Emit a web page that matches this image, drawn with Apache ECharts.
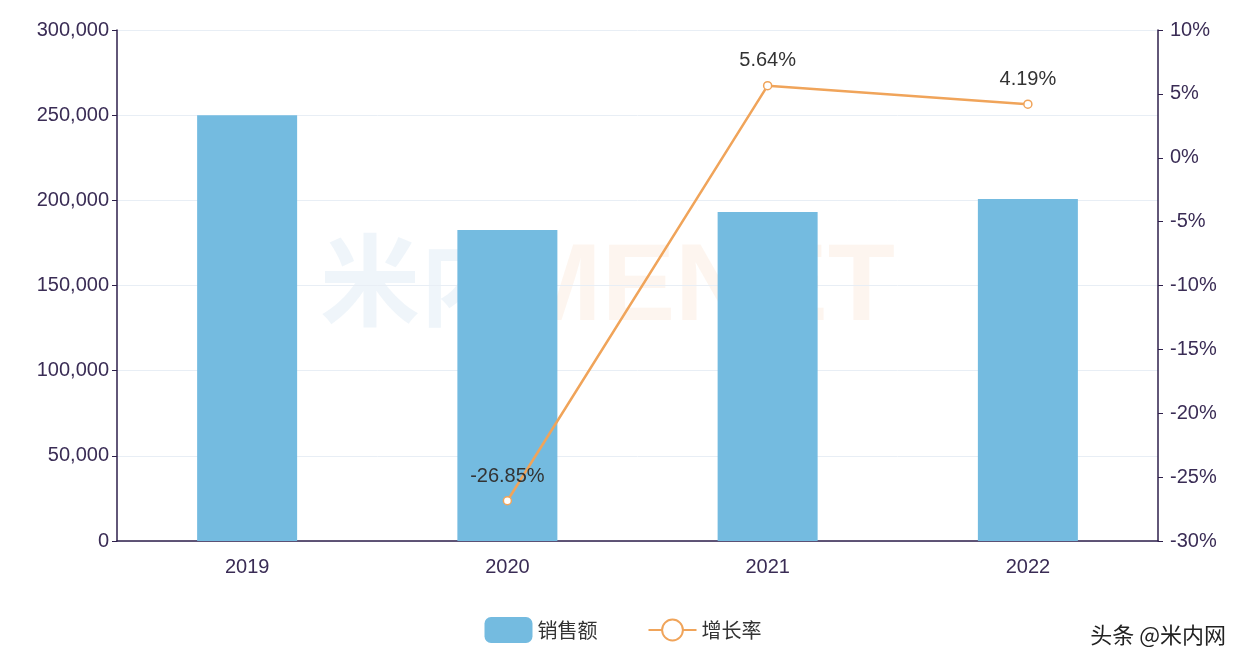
<!DOCTYPE html>
<html><head><meta charset="utf-8">
<script src="https://cdn.jsdelivr.net/npm/echarts@6/dist/echarts.min.js"></script>
<style>html,body{margin:0;padding:0;background:#fff}#c{width:1246px;height:660px}</style>
</head><body><div id="c"></div>
<script>
var categories = ['2019','2020','2021','2022'];
var sales = [250000, 182600, 193200, 200800];
var growth = [null, -26.85, 5.64, 4.19];
var chart = echarts.init(document.getElementById('c'));
var axisText = {color:'#3a2c55', fontSize:20, fontFamily:'Liberation Sans'};
chart.setOption({
  animation:false,
  grid:{left:117, right:88, top:30, bottom:119},
  legend:{bottom:12, left:'center', itemWidth:48, itemHeight:26, itemGap:50,
    textStyle:{fontSize:20, color:'#333', fontFamily:'Noto Sans CJK SC'},
    data:[{name:'销售额', icon:'roundRect'},{name:'增长率'}]},
  graphic:[
    {type:'text', left:320, top:230, style:{text:'米内', fontSize:100, fontWeight:'bold', fill:'rgba(120,170,210,0.12)', fontFamily:'Noto Sans CJK SC'}},
    {type:'text', left:510, top:235, style:{text:'MENET', fontSize:110, fontWeight:'bold', fill:'rgba(240,160,100,0.10)', fontFamily:'Liberation Sans'}},
    {type:'text', right:20, bottom:14, style:{text:'头条 @米内网', fontSize:22, fill:'#222', fontFamily:'Noto Sans CJK SC'}}
  ],
  xAxis:{type:'category', data:categories,
    axisLine:{lineStyle:{color:'#2e1f4b', width:1.5}}, axisTick:{lineStyle:{color:'#2e1f4b'}, length:6},
    axisLabel:Object.assign({margin:16}, axisText)},
  yAxis:[
    {type:'value', min:0, max:300000, interval:50000,
     axisLine:{show:true, lineStyle:{color:'#2e1f4b', width:1.5}}, axisTick:{show:true, lineStyle:{color:'#2e1f4b'}},
     splitLine:{lineStyle:{color:'#e8eef5'}},
     axisLabel:Object.assign({formatter:function(v){return v.toLocaleString('en-US');}}, axisText)},
    {type:'value', min:-30, max:10, interval:5,
     axisLine:{show:true, lineStyle:{color:'#2e1f4b', width:1.5}}, axisTick:{show:true, lineStyle:{color:'#2e1f4b'}},
     splitLine:{show:false},
     axisLabel:Object.assign({formatter:'{value}%', margin:12}, axisText)}
  ],
  series:[
    {name:'销售额', type:'bar', data:sales, barWidth:100, itemStyle:{color:'#74bbe0'}},
    {name:'增长率', type:'line', yAxisIndex:1, data:growth, symbol:'circle', symbolSize:8,
     lineStyle:{color:'#f0a45a', width:2.5}, itemStyle:{color:'#fff', borderColor:'#f0a45a', borderWidth:1.5},
     label:{show:true, position:'top', distance:10, formatter:'{c}%', fontSize:20, color:'#333', fontFamily:'Liberation Sans'}}
  ]
});
</script></body></html>
